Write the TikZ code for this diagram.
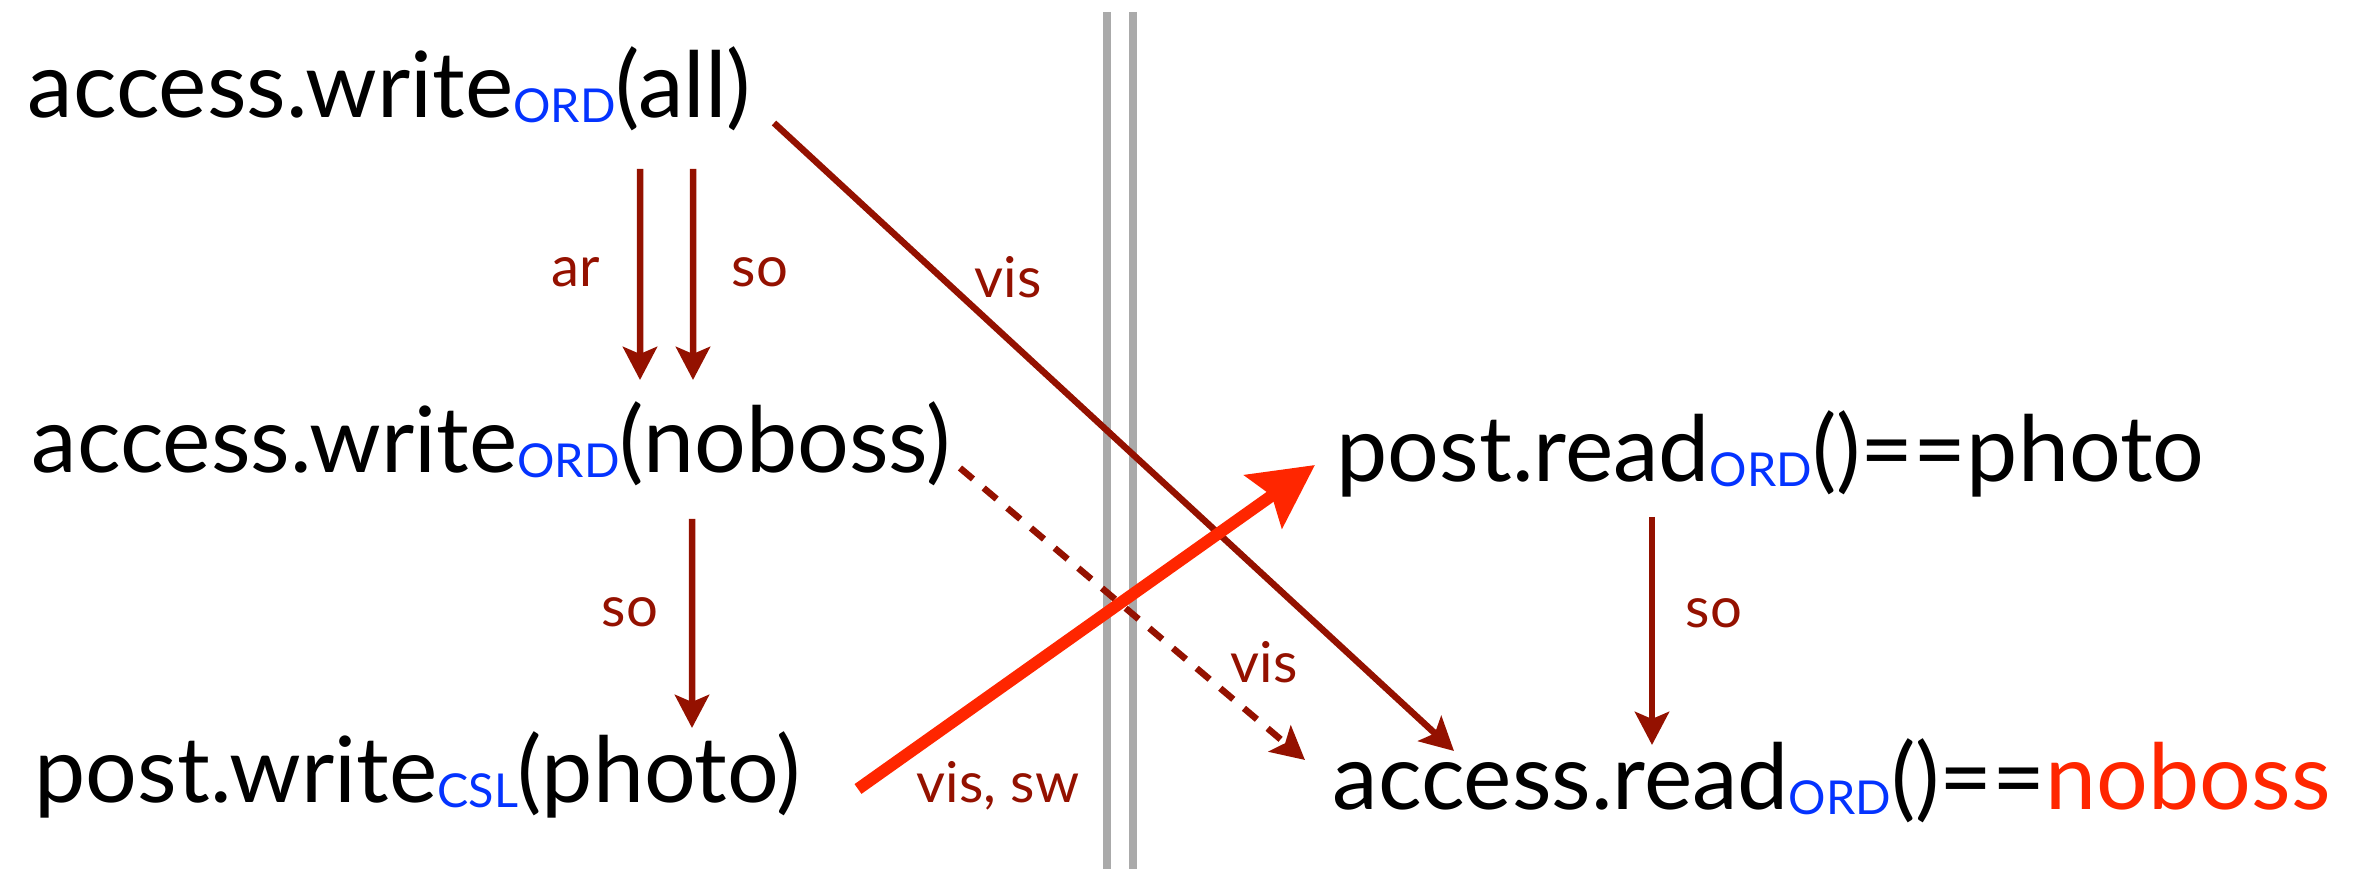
\documentclass[tikz,border=0pt]{standalone}
\usepackage{fontspec}
\setmainfont{Lato}
\usetikzlibrary{arrows.meta,calc}

\definecolor{relred}{HTML}{941100}
\definecolor{hotred}{HTML}{FF2600}
\definecolor{ordblue}{HTML}{0433FF}
\definecolor{sepgray}{HTML}{AAAAAA}

% consistency-level subscript
\newcommand\lvl[1]{\raisebox{-0.05cm}{\fontsize{13.3}{15}\selectfont\color{ordblue}#1}}

\tikzset{
  op/.style={anchor=base west, inner sep=0pt, font=\fontsize{26}{30}\selectfont},
  rel/.style={anchor=base, inner sep=0pt, text=relred, font=\fontsize{16}{19}\selectfont},
  conn/.style={draw=relred, line width=0.065cm,
    -{Stealth[length=0.33cm, width=0.34cm, inset=0.07cm]}},
  weak/.style={conn, dash pattern=on 0.17cm off 0.14cm},
  hot/.style={draw=hotred, line width=0.12cm,
    -{Stealth[length=0.63cm, width=0.64cm, inset=0.1cm]}},
  wall/.style={draw=sepgray, line width=0.08cm}
}

\begin{document}
\begin{tikzpicture}
\useasboundingbox (0,0) rectangle (23.55,8.69);

% replica boundary
\draw[wall] (11.07,8.57) coordinate (wallAtop) -- (11.07,0) coordinate (wallAbot);
\draw[wall] (11.33,8.57) coordinate (wallBtop) -- (11.33,0) coordinate (wallBbot);

% operations
\node[op] (w1) at (0.27,7.51) {access.write\lvl{ORD}(all)};
\node[op] (w2) at (0.31,3.96) {access.write\lvl{ORD}(noboss)};
\node[op] (w3) at (0.34,0.66) {post.write\lvl{CSL}(photo)};
\node[op] (r1) at (13.36,3.87) {post.read\lvl{ORD}()==photo};
\node[op] (r2) at (13.32,0.59) {access.read\lvl{ORD}()==\textcolor{hotred}{noboss}};

% relations
\draw[conn] ($(w1.base west)+(6.13,-0.51)$) -- ($(w2.base west)+(6.09,0.93)$);
\draw[conn] ($(w1.base west)+(6.66,-0.51)$) -- ($(w2.base west)+(6.62,0.93)$);
\draw[conn] ($(w1.base west)+(7.47,-0.05)$) -- ($(r2.base west)+(1.22,0.59)$);
\draw[conn] ($(w2.base west)+(6.61,-0.46)$) -- ($(w3.base west)+(6.58,0.75)$);
\draw[weak] ($(w2.base west)+(9.29,0.05)$) -- ($(r2.base west)+(-0.27,0.50)$);
\draw[conn] ($(r1.base west)+(3.16,-0.35)$) -- ($(r2.base west)+(3.20,0.65)$);
\draw[hot] ($(w3.base west)+(8.24,0.14)$) -- ($(r1.base west)+(-0.21,0.17)$);

% relation labels
\node[rel] (lar)  at (5.76,5.82) {ar};
\node[rel] (lso1) at (7.60,5.82) {so};
\node[rel] (lvis1) at (10.08,5.71) {vis};
\node[rel] (lso2) at (6.30,2.42) {so};
\node[rel] (lvis2) at (12.64,1.86) {vis};
\node[rel] (lvsw) at (9.98,0.66) {vis, sw};
\node[rel] (lso3) at (17.14,2.41) {so};
\end{tikzpicture}
\end{document}
